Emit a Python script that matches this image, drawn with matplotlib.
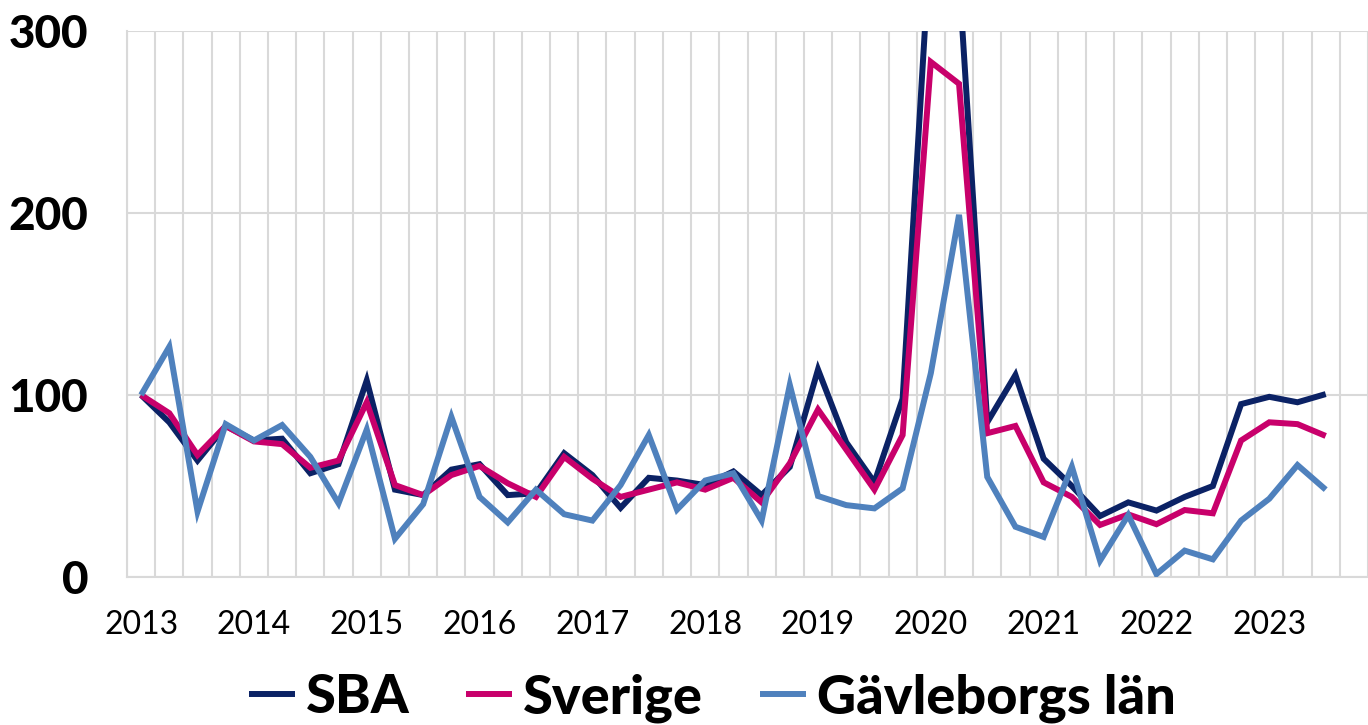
import numpy as np
import matplotlib
matplotlib.use("Agg")
import matplotlib.pyplot as plt

# Kvartalsdata 2013 K1 - 2023 K3 (index, 2013 K1 = 100)
years = ["2013", "2014", "2015", "2016", "2017", "2018",
         "2019", "2020", "2021", "2022", "2023"]
n_slots = 44  # 2013 K1 .. 2023 K4 (sista kvartalet saknar data)

sba = [100, 85, 64, 83, 75, 76, 57, 62, 108, 48,
       45, 59, 62, 45, 46, 68, 56, 38, 54.5, 53,
       50.5, 58, 45, 60.5, 114, 74, 52, 98, 355, 330,
       85, 111, 65, 50, 33.5, 41, 36.5, 44, 50, 95,
       99, 96, 100.5]
sverige = [100, 90, 67, 83, 74.5, 73, 60, 64, 96, 50.5,
           45, 56, 61, 51.5, 44, 66, 54, 44, 48, 52,
           48, 54.5, 41, 62.5, 92, 70, 48, 78, 283, 271,
           79, 83, 52, 44, 28.6, 34.4, 29, 36.8, 35, 75,
           85, 84, 77.5]
gavle = [100, 126.5, 36, 84, 75, 83.5, 66, 40.5, 81, 21,
         40, 88, 44, 30, 48, 34.5, 31, 50.5, 78, 37,
         53, 57, 31, 105.5, 44.5, 39.5, 37.7, 48.7, 112, 199,
         55, 27.6, 22, 60.6, 9, 34, 1.6, 14.5, 9.7, 31,
         43, 61.5, 48]

series = [
    ("SBA", sba, "#0b2265"),
    ("Sverige", sverige, "#c8006b"),
    ("Gävleborgs län", gavle, "#4f81bd"),
]

GRID = "#d9d9d9"

fig = plt.figure(figsize=(13.68, 7.25), dpi=100)
ax = fig.add_axes([127 / 1368, 148 / 725, 1 - 127 / 1368, (577 - 31) / 725])

x = np.arange(len(sba))
for name, vals, col in series:
    ax.plot(x, vals, color=col, lw=4.3, label=name, solid_joinstyle="miter",
            solid_capstyle="butt", zorder=3)

ax.set_xlim(-0.5, n_slots - 0.5)
ax.set_ylim(0, 300)

ax.set_yticks([0, 100, 200, 300])
ax.set_xticks(np.arange(0, n_slots, 4))
ax.set_xticklabels(years)
ax.set_xticks(np.arange(-0.5, n_slots, 1), minor=True)

ax.grid(axis="y", which="major", color=GRID, lw=1.5, zorder=0)
ax.grid(axis="x", which="minor", color=GRID, lw=1.5, zorder=0)
ax.tick_params(which="both", length=0)
ax.tick_params(axis="y", pad=28)
ax.tick_params(axis="x", pad=24)

for lab in ax.get_yticklabels():
    lab.set_family("Lato")
    lab.set_weight("black")
    lab.set_fontsize(33)
for lab in ax.get_xticklabels():
    lab.set_family("Lato")
    lab.set_fontsize(23)

for s in ["top", "right"]:
    ax.spines[s].set_visible(False)
for s in ["left", "bottom"]:
    ax.spines[s].set_color(GRID)
    ax.spines[s].set_linewidth(1.5)

leg = fig.legend(loc="center", bbox_to_anchor=(712 / 1368, 1 - 698 / 725),
                 ncol=3, frameon=False, handlelength=0.85, handletextpad=0.2,
                 columnspacing=1.05,
                 prop={"family": "Lato", "weight": "black", "size": 39})
for h in leg.get_lines():
    h.set_linewidth(4.3)

fig.savefig("out.png", dpi=100)
